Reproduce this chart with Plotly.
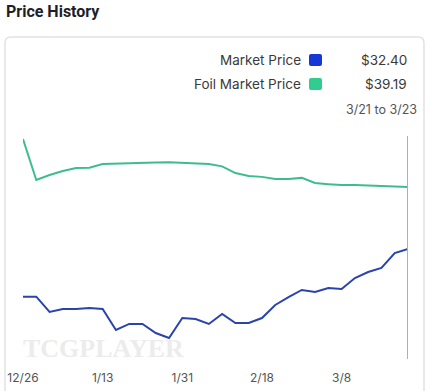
import plotly.graph_objects as go
import pandas as pd

W, H = 429, 391

dates = pd.date_range("2022-12-26", periods=30, freq="3D")
market_price = [27.18, 27.18, 25.50, 25.83, 25.83, 25.94, 25.83, 23.53, 24.19, 24.19,
                23.20, 22.65, 24.84, 24.73, 24.19, 25.28, 24.29, 24.29, 24.84, 26.27,
                27.14, 27.91, 27.69, 28.13, 28.02, 29.22, 29.88, 30.32, 31.96, 32.40]
foil_market_price = [44.45, 39.96, 40.51, 40.94, 41.27, 41.30, 41.70, 41.76, 41.76, 41.82,
                     41.88, 41.90, 41.85, 41.75, 41.70, 41.45, 40.72, 40.40, 40.30, 40.08,
                     40.08, 40.19, 39.63, 39.50, 39.40, 39.40, 39.38, 39.30, 39.25, 39.19]
tick_dates = ["2022-12-26", "2023-01-13", "2023-01-31", "2023-02-18", "2023-03-08"]
tick_labels = ["12/26", "1/13", "1/31", "2/18", "3/8"]
series_names = ["Market Price", "Foil Market Price"]
series_values = ["$32.40", "$39.19"]
range_label = "3/21 to 3/23"

BLUE_LINE = "#2a44ab"
BLUE_SQ = "#1638d6"
GREEN_LINE = "#3dbd8f"
GREEN_SQ = "#30cc90"


def px(x):
    return x / W


def py(y):
    return 1 - y / H


def rounded(xa, xb, ya, yb, rx, ry):
    return (f"M {xa+rx},{ya} L {xb-rx},{ya} Q {xb},{ya} {xb},{ya-ry} "
            f"L {xb},{yb+ry} Q {xb},{yb} {xb-rx},{yb} L {xa+rx},{yb} "
            f"Q {xa},{yb} {xa},{yb+ry} L {xa},{ya-ry} Q {xa},{ya} {xa+rx},{ya} Z")


fig = go.Figure()
fig.add_trace(go.Scatter(x=dates, y=foil_market_price, mode="lines",
                         line=dict(color=GREEN_LINE, width=2), name=series_names[1],
                         hoverinfo="skip"))
fig.add_trace(go.Scatter(x=dates, y=market_price, mode="lines",
                         line=dict(color=BLUE_LINE, width=2), name=series_names[0],
                         hoverinfo="skip"))

shapes = [
    dict(type="path", xref="paper", yref="paper",
         path=rounded(px(5), px(424), py(37), py(430), 6 / W, 6 / H),
         line=dict(color="#e2e2e2", width=1.5), fillcolor="rgba(0,0,0,0)", layer="below"),
    dict(type="line", xref="x", yref="paper", x0=dates[-1], x1=dates[-1],
         y0=py(359), y1=py(136), line=dict(color="#b0b0b0", width=2)),
]
for i, c in enumerate([BLUE_SQ, GREEN_SQ]):
    yc = 60 + 24 * i
    shapes.append(dict(type="path", xref="paper", yref="paper",
                       path=rounded(px(309), px(322), py(yc - 6), py(yc + 6), 2 / W, 2 / H),
                       fillcolor=c, line=dict(width=0)))

annotations = [
    dict(text="<b>Price History</b>", x=px(4), y=py(12), xref="paper", yref="paper",
         xanchor="left", yanchor="middle", showarrow=False,
         font=dict(family="Roboto", size=16, color="#1e1e2a")),
    dict(text="TCGPLAYER", x=px(21), y=py(348), xref="paper", yref="paper",
         xanchor="left", yanchor="middle", showarrow=False,
         font=dict(family="Liberation Serif", size=26, color="#ececec", weight="bold")),
    dict(text=range_label, x=px(419), y=py(110), xref="paper", yref="paper",
         xanchor="right", yanchor="middle", showarrow=False,
         font=dict(family="Inter", size=12.5, color="#555555")),
]
for i in range(2):
    yc = 60 + 24 * i
    annotations.append(dict(text=series_names[i], x=px(303), y=py(yc), xref="paper", yref="paper",
                            xanchor="right", yanchor="middle", showarrow=False,
                            font=dict(family="Inter", size=13.5, color="#3a3a3a")))
    annotations.append(dict(text=series_values[i], x=px(409), y=py(yc), xref="paper", yref="paper",
                            xanchor="right", yanchor="middle", showarrow=False,
                            font=dict(family="Inter", size=13.5, color="#3a3a3a")))

s = 9.13
ref_y, ref_p = 249, 32.40
y_top = ref_p + (ref_y - 130) / s
y_bot = ref_p - (358 - ref_y) / s

fig.update_layout(
    width=W, height=H, margin=dict(l=0, r=0, t=0, b=0, autoexpand=False),
    paper_bgcolor="white", plot_bgcolor="white", showlegend=False, hovermode=False,
    shapes=shapes, annotations=annotations,
    xaxis=dict(domain=[px(23), px(408)], range=[dates[0], dates[-1]], type="date",
               tickvals=tick_dates, ticktext=tick_labels, showgrid=False, zeroline=False,
               showline=False, ticks="outside", ticklen=9, tickcolor="rgba(0,0,0,0)",
               automargin=False, ticklabeloverflow="allow",
               tickfont=dict(family="Inter", size=12, color="#555555")),
    yaxis=dict(domain=[py(358), py(130)], range=[y_bot, y_top], visible=False,
               automargin=False),
)
fig.write_html("out.html", config={"displayModeBar": False, "staticPlot": True},
               post_script="document.body.style.margin='0';document.body.style.overflow='hidden';")
